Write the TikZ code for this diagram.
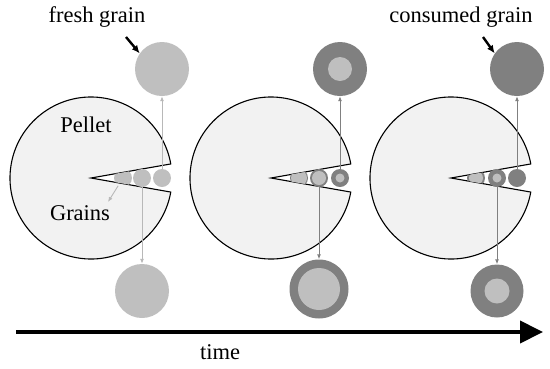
\documentclass[tikz,border=0pt]{standalone}
\usepackage{fontspec}
\setmainfont{Liberation Serif}
\usetikzlibrary{arrows.meta}
\definecolor{pelletgray}{gray}{0.95}
\definecolor{freshgray}{gray}{0.75}
\definecolor{usedgray}{gray}{0.5}

\begin{document}
\begin{tikzpicture}[x=1pt,y=-1pt,pellet/.style={draw=black,line width=1.1pt,fill=pelletgray},grain/.style={circle,inner sep=0pt,minimum size=#1,fill=freshgray},used/.style={fill=usedgray},core/.style={path picture={\fill[freshgray] (path picture bounding box.center) circle[radius=#1];}},lbl/.style={font=\fontsize{22.5}{27}\selectfont},feed/.style={-{Latex[length=5pt,width=4pt]},line width=0.9pt,draw=#1},pt/.style={-{Latex[length=8pt,width=7pt]},line width=2.4pt}]
\useasboundingbox (0,0) rectangle (550,368);
% pellets
\filldraw[pellet] (91,178) -- ++(10:81) arc[start angle=10,end angle=350,radius=81] -- cycle;
\filldraw[pellet] (271,178) -- ++(10:81) arc[start angle=10,end angle=350,radius=81] -- cycle;
\filldraw[pellet] (451,178) -- ++(10:81) arc[start angle=10,end angle=350,radius=81] -- cycle;
% grains in the notch
\begin{scope} \clip (91,178) -- (171,164) -- (171,192) -- cycle; \node[grain=18] (a1) at (123,178) {}; \end{scope}
\node[grain=18] (b1) at (142,178) {};
\node[grain=18] (c1) at (162,178) {};
\begin{scope} \clip (271,178) -- (351,164) -- (351,192) -- cycle; \node[grain=18,used,core=8] (a2) at (299,178) {}; \end{scope}
\node[grain=18,used,core=7] (b2) at (319,178) {};
\node[grain=18,used,core=4.5] (c2) at (340,178) {};
\begin{scope} \clip (451,178) -- (531,164) -- (531,192) -- cycle; \node[grain=18,used,core=7] (a3) at (476,178) {}; \end{scope}
\node[grain=18,used,core=4.5] (b3) at (497,178) {};
\node[grain=18,used] (c3) at (517,178) {};
% enlarged grains
\node[grain=54] (f1) at (162,69) {};
\node[grain=54] (d1) at (142,291) {};
\node[grain=54,used,core=12] (f2) at (340,69) {};
\node[grain=59,used,core=21] (d2) at (319,289) {};
\node[grain=54,used] (f3) at (517,69) {};
\node[grain=53,used,core=12.5] (d3) at (497,291) {};
\coordinate (gr) at (108,202);
\draw[feed=black!28] (c1) -- (f1); \draw[feed=black!28] (b1) -- (d1); \draw[feed=black!28] (a1) -- (gr);
\draw[feed=usedgray] (c2) -- (f2); \draw[feed=usedgray] (b2) -- (d2);
\draw[feed=usedgray] (c3) -- (f3); \draw[feed=usedgray] (b3) -- (d3);
% labels
\node[lbl] (fresh) at (97,17) {fresh grain};
\node[lbl] (consumed) at (461,17) {consumed grain};
\node[lbl] (pel) at (86,125) {Pellet};
\node[lbl] (grl) at (80,213) {Grains};
\coordinate (fa) at (126,37); \draw[pt] (fa) -- (f1.145);
\coordinate (ca) at (483,37); \draw[pt] (ca) -- (f3.145);
% time axis
\coordinate (t0) at (16,332); \coordinate (t1) at (543,332);
\draw[-{Triangle[length=23pt,width=22pt]},line width=4pt] (t0) -- (t1);
\node[lbl] (time) at (220,352) {time};
\end{tikzpicture}
\end{document}
